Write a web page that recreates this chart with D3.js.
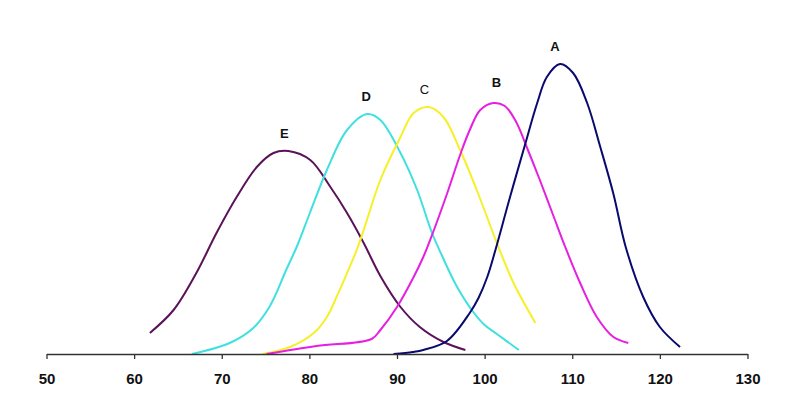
<!DOCTYPE html>
<html>
<head>
<meta charset="utf-8">
<script src="https://cdn.jsdelivr.net/npm/d3@7"></script>
<style>
  body { margin: 0; background: #fff; }
  svg { display: block; }
</style>
</head>
<body>
<div id="chart"></div>
<script>
// values: [score, frequency]
const curveA = [[89.6, 0], [91.8, 2], [93.0, 4], [95.7, 13], [98.3, 41], [99.3, 56], [100.3, 77],
  [101.2, 103], [102.9, 157], [104.6, 209], [106.0, 251], [107.1, 277], [108.6, 290],
  [110.1, 281], [111.7, 251], [113.2, 207], [114.7, 160], [116.1, 107], [118.1, 57], [120.0, 27],
  [122.3, 7]];
const curveB = [[75.1, 0], [80.8, 8], [87.1, 15], [88.1, 24], [90.0, 47], [91.9, 77], [93.0, 97],
  [94.0, 119], [95.7, 160], [97.2, 199], [98.3, 224], [99.5, 244], [101.0, 251], [102.3, 248],
  [103.6, 232], [104.8, 207], [106.3, 174], [107.9, 137], [109.2, 107], [110.9, 71], [112.8, 37],
  [114.7, 17], [116.4, 11]];
const curveC = [[74.7, 0], [77.8, 7], [80.5, 21], [82.0, 37], [83.1, 57], [84.3, 81], [85.4, 104],
  [86.2, 124], [88.1, 174], [90.4, 217], [91.9, 241], [93.6, 247], [95.3, 237], [97.2, 204],
  [99.1, 164], [101.4, 111], [103.3, 71], [105.8, 31]];
const curveD = [[66.6, 0], [70.9, 11], [73.6, 26], [75.5, 48], [77.4, 85], [78.6, 108], [80.1, 142],
  [82.0, 184], [84.3, 224], [86.6, 240], [88.1, 234], [90.4, 201], [92.3, 164], [94.0, 121],
  [95.1, 99], [96.8, 68], [98.7, 42], [100.0, 29], [101.4, 20], [103.9, 4]];
const curveE = [[61.8, 21], [64.5, 44], [67.1, 81], [69.4, 121], [71.7, 157], [74.0, 187], [75.9, 201],
  [77.6, 203], [80.1, 194], [82.4, 167], [84.3, 141], [86.2, 111], [88.1, 78], [90.4, 47],
  [92.6, 27], [95.3, 12], [97.8, 4]];

const seriesNames = ["A", "B", "C", "D", "E"];
const seriesColors = ["#0a0a6e", "#e620e0", "#f5f028", "#40e0e0", "#5a1258"];
const labelWeights = ["bold", "bold", "normal", "bold", "bold"];
const xTicks = [50, 60, 70, 80, 90, 100, 110, 120, 130];

const series = [curveA, curveB, curveC, curveD, curveE].map((pts, i) => ({
  name: seriesNames[i], color: seriesColors[i], weight: labelWeights[i], pts: pts
}));

const width = 788, height = 393;
const margin = {top: 54, left: 46.5, right: 40.5, bottom: 39};

const svg = d3.select("#chart").append("svg")
  .attr("width", width)
  .attr("height", height);

const x = d3.scaleLinear().domain([50, 130]).range([margin.left, width - margin.right]);
const y = d3.scaleLinear().domain([0, 300]).range([height - margin.bottom, margin.top]);

const line = d3.line()
  .x(d => x(d[0]))
  .y(d => y(d[1]))
  .curve(d3.curveCatmullRom.alpha(0.5));

svg.append("g")
  .selectAll("path")
  .data(series.slice().reverse())
  .join("path")
    .attr("fill", "none")
    .attr("stroke", d => d.color)
    .attr("stroke-width", 2)
    .attr("stroke-linejoin", "round")
    .attr("d", d => line(d.pts));

// label above each peak (B sits a bit to the right in the original)
const labelShift = {A: -5, B: 3, C: -4, D: -1, E: -4};
svg.append("g")
  .selectAll("text")
  .data(series)
  .join("text")
    .attr("x", d => x(d3.greatest(d.pts, p => p[1])[0]) + labelShift[d.name])
    .attr("y", d => y(d3.max(d.pts, p => p[1])) - (d.name === "B" ? 16 : 13))
    .attr("text-anchor", "middle")
    .style("font", d => `${d.weight} 13px "Liberation Sans", Arial, sans-serif`)
    .attr("fill", "#111")
    .text(d => d.name);

const axis = svg.append("g")
  .attr("transform", `translate(0,${y(0)})`)
  .call(d3.axisBottom(x).tickValues(xTicks).tickSize(5).tickSizeOuter(0).tickPadding(14));

axis.select(".domain").attr("stroke", "#333").attr("stroke-width", 1.3);
axis.selectAll(".tick line").attr("stroke", "#333").attr("stroke-width", 1.3);
axis.selectAll(".tick text")
  .attr("fill", "#111")
  .style("font", 'bold 15px "Liberation Sans", Arial, sans-serif');
</script>
</body>
</html>
